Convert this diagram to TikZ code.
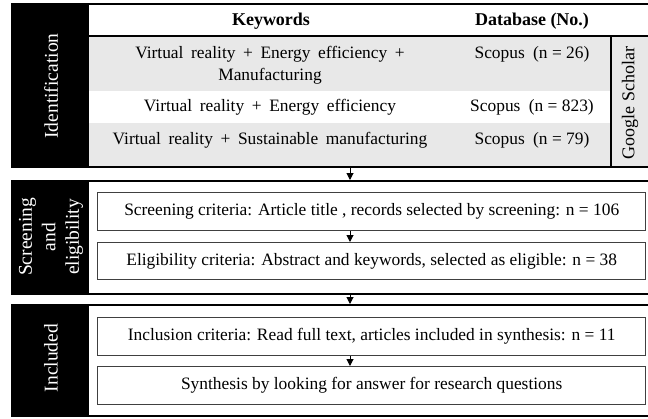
\documentclass[tikz,border=0pt]{standalone}
\usepackage{fontspec}
\setmainfont{Liberation Serif}
\usetikzlibrary{arrows.meta}
\definecolor{rowgrey}{HTML}{E8E8E8}
\definecolor{boxline}{HTML}{404040}
\begin{document}
\begin{tikzpicture}[x=1pt,y=-1pt,
  txt/.style={font=\fontsize{17.4}{22}\selectfont, inner sep=0pt, align=center},
  tab/.style={txt, execute at begin node={\spaceskip=7.6pt plus 1pt\relax}},
  side/.style={inner sep=0pt, align=center, font=\fontsize{19.5}{23.5}\selectfont, text=white, rotate=90},
  panelline/.style={line width=2.6pt},
  critbox/.style={draw=boxline, line width=1.4pt, fill=white, inner sep=0pt, txt},
  flow/.style={line width=1pt, -{Triangle[length=7pt,width=7pt]}}]
\useasboundingbox (0,0) rectangle (648,418);
% ---------- panel 1: Identification ----------
\fill[rowgrey] (89,36) rectangle (648,91);
\fill[rowgrey] (89,123) rectangle (648,167);
\fill[rowgrey] (611,36) rectangle (648,167);
\fill[black] (11,4) rectangle (89,167);
\draw[line width=1.6pt] (89,36) -- (648,36);
\draw[line width=1.5pt] (611,36) -- (611,167);
\draw[panelline] (11,4) -- (648,4);
\draw[panelline] (11,167) -- (648,167);
\node[side] (lid) at (51,86) {Identification};
\node[txt, font=\fontsize{18}{22}\selectfont\bfseries] (hk) at (271,21) {Keywords};
\node[txt, font=\fontsize{18}{22}\selectfont\bfseries] (hd) at (532,21) {Database (No.)};
\node[tab] (k1) at (270,65) {Virtual reality + Energy efficiency +\\Manufacturing};
\node[txt] (d1) at (532,54) {Scopus\hspace{4pt} (n = 26)};
\node[tab] (k2) at (270,107) {Virtual reality + Energy efficiency};
\node[txt] (d2) at (532,107) {Scopus\hspace{4pt} (n = 823)};
\node[tab] (k3) at (270,140) {Virtual reality + Sustainable manufacturing};
\node[txt] (d3) at (532,140) {Scopus\hspace{4pt} (n = 79)};
\node[txt, font=\fontsize{18}{22}\selectfont, rotate=90] (gs) at (630,103) {Google Scholar};
\coordinate (p1b) at (350,167);
% ---------- panel 2: Screening and eligibility ----------
\fill[black] (11,181) rectangle (89,294);
\draw[panelline] (11,181) -- (648,181);
\draw[panelline] (11,294) -- (648,294);
\node[side] (lse) at (51,237) {Screening\\and\\eligibility};
\coordinate (p2t) at (350,180);
\node[critbox, minimum width=548pt, minimum height=38pt, anchor=north west] (b1) at (97,192)
  {Screening criteria: Article title , records selected by screening: n = 106};
\node[critbox, minimum width=548pt, minimum height=37pt, anchor=north west] (b2) at (97,242)
  {Eligibility criteria: Abstract and keywords, selected as eligible: n = 38};
\coordinate (p2b) at (350,294);
% ---------- panel 3: Included ----------
\fill[black] (11,305) rectangle (89,416);
\draw[panelline] (11,305) -- (648,305);
\draw[panelline] (11,416) -- (648,416);
\node[side] (lin) at (51,358) {Included};
\coordinate (p3t) at (350,304);
\node[critbox, minimum width=548pt, minimum height=38pt, anchor=north west] (b3) at (97,317)
  {Inclusion criteria: Read full text, articles included in synthesis: n = 11};
\node[critbox, minimum width=548pt, minimum height=38pt, anchor=north west] (b4) at (97,366)
  {Synthesis by looking for answer for research questions};
% ---------- arrows ----------
\draw[flow] (p1b) -- (p2t);
\draw[flow] (b1.south -| p1b) -- (b2.north -| p1b);
\draw[flow] (p2b) -- (p3t);
\draw[flow] (b3.south -| p1b) -- (b4.north -| p1b);
\end{tikzpicture}
\end{document}
